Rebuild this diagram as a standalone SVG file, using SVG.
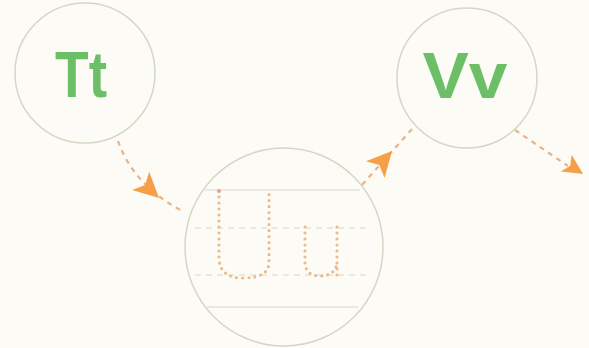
<svg xmlns="http://www.w3.org/2000/svg" width="589" height="348" viewBox="0 0 589 348">
<style>
.ring{fill:none;stroke:#d2d8c4;stroke-width:1.5}
.big{font-family:"Liberation Sans",Arial,sans-serif;font-weight:bold;font-size:64px;fill:#6dbf67}
.conn{fill:none;stroke:#e9b387;stroke-width:2.2;stroke-dasharray:5 5}
.head{fill:#f5a047}
.rule{stroke:#d6d6d0;stroke-width:1.2;fill:none}
.rule-d{stroke:#d6d6d0;stroke-width:1.2;fill:none;stroke-dasharray:6 5}
.dots{fill:none;stroke:#ebbb8c;stroke-width:3.2;stroke-linecap:round;stroke-dasharray:0 6}
</style>
<defs>
<path id="ah" d="M0,0 L-25,-12.5 L-19,0 L-25,12.5 Z"/>
<clipPath id="cu"><circle cx="284" cy="247" r="98"/></clipPath>
</defs>
<rect width="589" height="348" fill="#fdfbf6"/>
<g id="connectors">
<path class="conn" d="M118,141 Q133,185 184,212"/>
<use href="#ah" class="head" transform="translate(159,198) rotate(43)"/>
<path class="conn" d="M362,185 L413,128"/>
<use href="#ah" class="head" transform="translate(392,151) rotate(-48)"/>
<path class="conn" d="M515,130 L568,166"/>
<use href="#ah" class="head" transform="translate(583,174) rotate(33) scale(0.8)"/>
</g>
<g id="node-Tt">
<circle class="ring" cx="85" cy="73" r="70"/>
<text class="big" x="81" y="97" text-anchor="middle" textLength="52" lengthAdjust="spacingAndGlyphs">Tt</text>
</g>
<g id="node-Uu">
<circle class="ring" cx="284" cy="247" r="99"/>
<g clip-path="url(#cu)">
<line class="rule" x1="205" y1="190" x2="360" y2="190"/>
<line class="rule-d" x1="195" y1="228" x2="370" y2="228"/>
<line class="rule-d" x1="195" y1="275" x2="370" y2="275"/>
<line class="rule" x1="207" y1="307" x2="358" y2="307"/>
</g>
<path class="dots" d="M219,191 V257 Q219,278 243,278 Q269,278 269,262 V191"/>
<path class="dots" d="M305,227 V263 Q306,276 320,276 Q335,276 337,263 M337,227 V277"/>
<circle cx="219" cy="191" r="2" fill="#e6a48a"/>
</g>
<g id="node-Vv">
<circle class="ring" cx="467" cy="78" r="70"/>
<text class="big" x="465" y="98" text-anchor="middle" textLength="85" lengthAdjust="spacingAndGlyphs">Vv</text>
</g>
</svg>
